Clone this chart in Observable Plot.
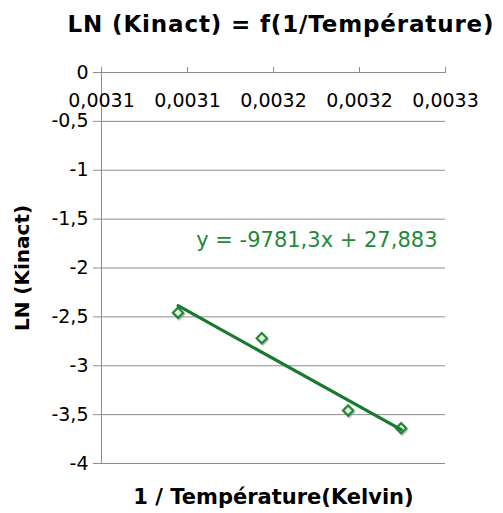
<!DOCTYPE html>
<html>
<head>
<meta charset="utf-8">
<script src="https://cdn.jsdelivr.net/npm/d3@7"></script>
<script src="https://cdn.jsdelivr.net/npm/@observablehq/plot@0.6"></script>
<style>
  html, body { margin: 0; padding: 0; background: #fff; overflow: hidden; }
  #title { position: absolute; top: 0; left: 281px; transform: translateX(-50%); height: 42px; line-height: 48px;
           font-family: "DejaVu Sans", sans-serif; font-weight: bold; font-size: 23px; letter-spacing: 0.85px; color: #000; white-space: nowrap; }
  #chart { position: absolute; top: 42px; left: 0; }
</style>
</head>
<body>
<div id="title">LN (Kinact) = f(1/Température)</div>
<div id="chart"></div>
<script>
// Data
const invTemp = [0.0030945, 0.0031432, 0.0031934, 0.0032242];
const lnKinact = [-2.458, -2.718, -3.458, -3.639];
const trendSlope = -9781.3;
const trendIntercept = 27.883;
const equationLabel = "y = -9781,3x + 27,883";
const xTicks = [0.00305, 0.0031, 0.00315, 0.0032, 0.00325];
const xTickLabels = ["0,0031", "0,0031", "0,0032", "0,0032", "0,0033"];
const yTicks = [0, -0.5, -1, -1.5, -2, -2.5, -3, -3.5, -4];
const yTickLabels = ["0", "-0,5", "-1", "-1,5", "-2", "-2,5", "-3", "-3,5", "-4"];
const xTitle = "1 / Température(Kelvin)";
const yTitle = "LN (Kinact)";

const points = invTemp.map((x, i) => ({x, y: lnKinact[i]}));
const xMin = d3.min(invTemp), xMax = d3.max(invTemp);
const trend = [xMin, xMax].map(x => ({x, y: trendSlope * x + trendIntercept}));

const gray = "#8c8c8c";
const green = "#177a2c";

const chart = Plot.plot({
  width: 503,
  height: 471,
  marginLeft: 101,
  marginRight: 58,
  marginTop: 30,
  marginBottom: 50,
  style: {fontFamily: "DejaVu Sans, sans-serif", fontSize: "18px", color: "#000", background: "#fff"},
  x: {domain: [xTicks[0], xTicks[xTicks.length - 1]], axis: null},
  y: {domain: [d3.min(yTicks), d3.max(yTicks)], axis: null},
  marks: [
    Plot.ruleY(yTicks, {stroke: gray, strokeWidth: 1}),
    Plot.ruleX([xTicks[0]], {stroke: gray, strokeWidth: 1}),
    Plot.axisY({ticks: yTicks, tickSize: 8, tickPadding: 5, stroke: gray, fill: "#000", label: null,
      tickFormat: d => yTickLabels[yTicks.indexOf(d)], fontSize: 19}),
    Plot.axisX({anchor: "top", ticks: xTicks, tickSize: 6, stroke: gray, label: null, tickFormat: () => ""}),
    Plot.text(xTicks, {x: d => d, frameAnchor: "top", dy: 28, lineAnchor: "middle", text: d => xTickLabels[xTicks.indexOf(d)], fontSize: 19, fill: "#000"}),
    Plot.dot(points, {x: "x", y: "y", symbol: "diamond2", r: 4.6, dx: 1, dy: 1.5, fill: "#9a9a9a", stroke: "#9a9a9a", strokeWidth: 2.2, strokeOpacity: 0.6, fillOpacity: 0.6}),
    Plot.dot(points, {x: "x", y: "y", symbol: "diamond2", r: 4.6, fill: "#dff3da", stroke: "#23893a", strokeWidth: 2.2}),
    Plot.line(trend, {x: "x", y: "y", stroke: green, strokeWidth: 3.2}),
    Plot.text([equationLabel], {frameAnchor: "top-right", dx: -8, dy: 168, textAnchor: "end", lineAnchor: "middle", fill: "#1e8a3a", fontSize: 21}),
    Plot.text([yTitle], {frameAnchor: "left", dx: -79, rotate: -90, textAnchor: "middle", lineAnchor: "middle", fontWeight: "bold", fontSize: 20, fill: "#000"}),
    Plot.text([xTitle], {frameAnchor: "bottom", dy: 34, lineAnchor: "middle", fontWeight: "bold", fontSize: 21, fill: "#000"})
  ]
});
document.getElementById("chart").appendChild(chart);
</script>
</body>
</html>
